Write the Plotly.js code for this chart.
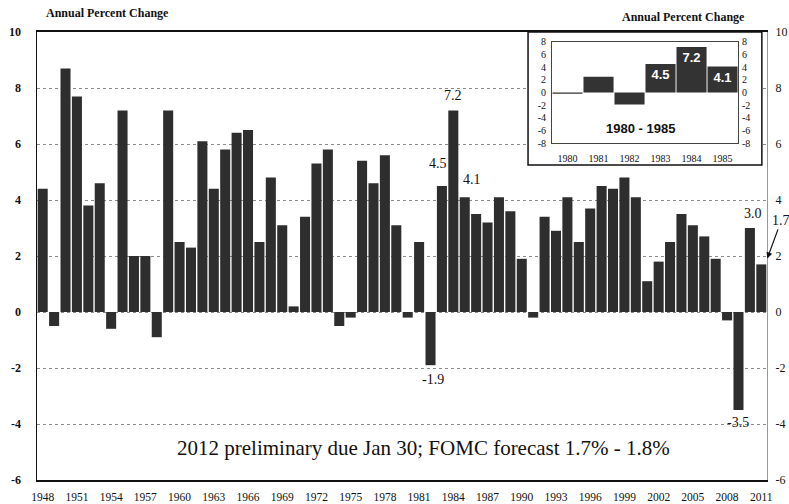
<!DOCTYPE html>
<html>
<head>
<meta charset="utf-8">
<script src="https://cdn.plot.ly/plotly-3.0.1.min.js"></script>
<style>html,body{margin:0;padding:0;background:#fff;}#chart{width:789px;height:504px;}</style>
</head>
<body>
<div id="chart"></div>
<script>
// ---- data ----
const years = [1948,1949,1950,1951,1952,1953,1954,1955,1956,1957,1958,1959,1960,1961,1962,1963,1964,1965,1966,1967,
  1968,1969,1970,1971,1972,1973,1974,1975,1976,1977,1978,1979,1980,1981,1982,1983,1984,1985,1986,1987,
  1988,1989,1990,1991,1992,1993,1994,1995,1996,1997,1998,1999,2000,2001,2002,2003,2004,2005,2006,2007,
  2008,2009,2010,2011];
const growth = [4.4,-0.5,8.7,7.7,3.8,4.6,-0.6,7.2,2.0,2.0,-0.9,7.2,2.5,2.3,6.1,4.4,5.8,6.4,6.5,2.5,
  4.8,3.1,0.2,3.4,5.3,5.8,-0.5,-0.2,5.4,4.6,5.6,3.1,-0.2,2.5,-1.9,4.5,7.2,4.1,3.5,3.2,
  4.1,3.6,1.9,-0.2,3.4,2.9,4.1,2.5,3.7,4.5,4.4,4.8,4.1,1.1,1.8,2.5,3.5,3.1,2.7,1.9,
  -0.3,-3.5,3.0,1.7];
const tickYears = [1948,1951,1954,1957,1960,1963,1966,1969,1972,1975,1978,1981,1984,1987,1990,1993,1996,1999,2002,2005,2008,2011];
const labeledYears = [1982,1983,1984,1985,2009,2010];
const arrowYear = 2011;
const insetYears = [1980,1981,1982,1983,1984,1985];
const insetLabeledYears = [1983,1984,1985];
const yTicks = [-6,-4,-2,0,2,4,6,8,10];
const insetTicks = [-8,-6,-4,-2,0,2,4,6,8];
const axisTitle = 'Annual Percent Change';
const insetTitle = '1980 - 1985';
const noteText = '2012 preliminary due Jan 30; FOMC forecast 1.7% - 1.8%';

// ---- helpers ----
const valueOf = y => growth[years.indexOf(y)];
const fmt = v => v.toFixed(1);
const insetValues = insetYears.map(valueOf);
const insetText = insetYears.map(y => insetLabeledYears.includes(y) ? fmt(valueOf(y)) : '');

// label styles (offsets in px)
const labelStyle = {
  1982: {xshift: 2, yshift: -5, yanchor: 'top'},
  1983: {xshift: -4, yshift: 13, yanchor: 'bottom'},
  1984: {xshift: 0, yshift: 5, yanchor: 'bottom'},
  1985: {xshift: 7, yshift: 8, yanchor: 'bottom'},
  2009: {xshift: 0, yshift: -3, yanchor: 'top'},
  2010: {xshift: 3, yshift: 5, yanchor: 'bottom'}
};

const SERIF = '"Liberation Serif", "DejaVu Serif", serif';
const SANS = '"Liberation Sans", Arial, sans-serif';
const BAR = '#2e2e2e';

const traces = [
  {type: 'bar', x: years, y: growth, xaxis: 'x', yaxis: 'y',
   marker: {color: BAR, line: {width: 0}}, hoverinfo: 'skip'},
  {type: 'scatter', x: [], y: [], xaxis: 'x', yaxis: 'y2', hoverinfo: 'skip', showlegend: false},
  {type: 'bar', x: insetYears, y: insetValues, xaxis: 'x2', yaxis: 'y3', width: 0.97,
   marker: {color: '#333333', line: {width: 0}},
   text: insetText, textposition: 'inside', insidetextanchor: 'end', constraintext: 'none',
   textfont: {family: SANS, size: 13, color: '#ffffff', weight: 'bold'}, hoverinfo: 'skip'},
  {type: 'scatter', x: [], y: [], xaxis: 'x2', yaxis: 'y4', hoverinfo: 'skip', showlegend: false}
];

const annotations = labeledYears.map(y => Object.assign({
  x: y, y: valueOf(y), xref: 'x', yref: 'y', text: fmt(valueOf(y)), showarrow: false,
  xanchor: 'center', font: {family: SERIF, size: 14, color: '#111'}
}, labelStyle[y]));

annotations.push({
  x: arrowYear, y: valueOf(arrowYear), xref: 'x', yref: 'y', text: fmt(valueOf(arrowYear)),
  showarrow: true, arrowhead: 2, arrowsize: 1, arrowwidth: 1.2, arrowcolor: '#111',
  ax: 14, ay: -38, xshift: 6, yshift: 6, font: {family: SERIF, size: 14, color: '#111'}
});
const paperNote = (x, y, text, font) => ({xref: 'paper', yref: 'paper', x: x, y: y, text: text,
  showarrow: false, xanchor: 'center', yanchor: 'middle', font: font});
annotations.push(paperNote(0.097, 1.042, axisTitle, {family: SERIF, size: 12, color: '#111', weight: 'bold'}));
annotations.push(paperNote(0.886, 1.034, axisTitle, {family: SERIF, size: 12, color: '#111', weight: 'bold'}));
annotations.push(paperNote(0.530, 0.0714, noteText, {family: SERIF, size: 21, color: '#111'}));
annotations.push(paperNote(0.827, 0.7857, insetTitle, {family: SANS, size: 13, color: '#111', weight: 'bold'}));

const layout = {
  width: 789, height: 504,
  margin: {l: 37, r: 22, t: 32, b: 24, pad: 0},
  paper_bgcolor: '#ffffff', plot_bgcolor: 'rgba(0,0,0,0)',
  showlegend: false, bargap: 0.12,
  font: {family: SERIF, color: '#111'},
  xaxis: {type: 'linear', range: [1947.5, 2011.5], tickvals: tickYears, ticktext: tickYears.map(String),
    showgrid: false, zeroline: false, showline: true, linecolor: '#111', linewidth: 2, mirror: true,
    ticks: '', tickfont: {family: SERIF, size: 11.5, color: '#111'}, ticklabelstandoff: 5},
  yaxis: {range: [-6, 10], tickvals: yTicks, ticktext: yTicks.map(String),
    showgrid: true, gridcolor: '#8a8a8a', griddash: 'dot', gridwidth: 1,
    zeroline: false, showline: true, linecolor: '#111', linewidth: 1.5,
    ticks: '', tickfont: {family: SERIF, size: 12, color: '#111', weight: 'bold'}, ticklabelstandoff: 12},
  yaxis2: {overlaying: 'y', side: 'right', anchor: 'x', range: [-6, 10], tickvals: yTicks, ticktext: yTicks.map(String),
    showgrid: false, zeroline: false, showline: true, linecolor: '#999', linewidth: 1,
    ticks: '', tickfont: {family: SERIF, size: 12, color: '#111'}, ticklabelstandoff: 5},
  xaxis2: {domain: [0.7055, 0.9603], anchor: 'y3', type: 'linear', range: [1979.5, 1985.5],
    tickvals: insetYears, ticktext: insetYears.map(String), showgrid: false, zeroline: false,
    showline: true, linecolor: '#444', linewidth: 1, mirror: true, ticks: '',
    tickfont: {family: SERIF, size: 10, color: '#111'}, ticklabelstandoff: 6},
  yaxis3: {domain: [0.7516, 0.978], anchor: 'x2', range: [-8, 8], tickvals: insetTicks, ticktext: insetTicks.map(String),
    showgrid: false, zeroline: false, showline: true, linecolor: '#444', linewidth: 1, mirror: true,
    ticks: '', tickfont: {family: SERIF, size: 10, color: '#111'}, ticklabelstandoff: 3},
  yaxis4: {overlaying: 'y3', side: 'right', anchor: 'x2', range: [-8, 8], tickvals: insetTicks, ticktext: insetTicks.map(String),
    showgrid: false, zeroline: false, showline: false, ticks: '',
    tickfont: {family: SERIF, size: 10, color: '#111'}, ticklabelstandoff: 3},
  shapes: [
    {type: 'rect', xref: 'x', yref: 'y', layer: 'between', x0: 1990.55, x1: 2011.05, y0: 5.25, y1: 10,
     fillcolor: '#ffffff', line: {color: '#111', width: 1.5}}
  ],
  annotations: annotations
};

Plotly.newPlot('chart', traces, layout, {staticPlot: true, displayModeBar: false});
</script>
</body>
</html>
